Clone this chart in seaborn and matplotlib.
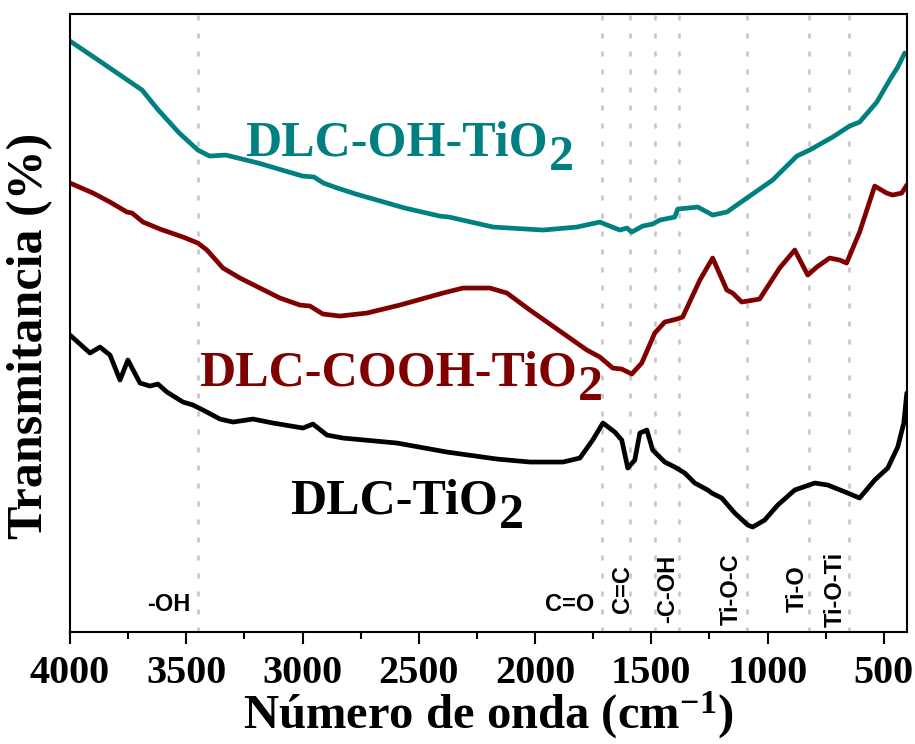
import pandas as pd
import seaborn as sns
from matplotlib import pyplot as plt
from matplotlib.ticker import MultipleLocator

# espectros FTIR (numero de onda en cm-1, transmitancia en unidades arbitrarias)
wn_oh = [4000, 3860, 3690, 3620, 3530, 3450, 3400, 3330, 3190, 3000, 2950, 2910,
         2850, 2770, 2560, 2410, 2370, 2180, 1965, 1820, 1721, 1690, 1635, 1605,
         1584, 1537, 1494, 1463, 1399, 1386, 1300, 1236, 1175, 1089, 978, 874,
         819, 720, 647, 604, 530, 475, 440, 410]
t_oh = [591, 569, 542, 522, 499, 482, 476, 477, 469, 456, 455, 449,
        444, 438, 424, 416, 415, 405, 402, 405, 410, 407, 402, 404,
        400, 406, 408, 412, 415, 423, 425, 417, 420, 434, 452, 476,
        482, 495, 506, 510, 530, 552, 565, 579]

wn_cooh = [4000, 3901, 3828, 3755, 3733, 3686, 3613, 3514, 3450, 3411, 3342, 3269,
           3183, 3097, 3011, 2968, 2912, 2839, 2723, 2581, 2396, 2310, 2194, 2121,
           2022, 1881, 1777, 1721, 1666, 1627, 1584, 1541, 1485, 1442, 1390, 1365,
           1291, 1236, 1175, 1150, 1111, 1034, 948, 883, 827, 788, 733, 690,
           660, 604, 539, 488, 462, 423, 401]
t_cooh = [449, 439, 430, 420, 419, 410, 403, 395, 389, 382, 364, 354,
          344, 334, 327, 326, 318, 316, 319, 327, 339, 344, 344, 339,
          322, 299, 282, 275, 264, 263, 258, 269, 299, 310, 313, 315,
          352, 374, 342, 339, 330, 333, 364, 382, 357, 365, 374, 372,
          369, 400, 446, 439, 437, 439, 447]

wn_tio2 = [4000, 3914, 3871, 3828, 3785, 3751, 3699, 3656, 3622, 3583, 3514, 3471,
           3428, 3355, 3299, 3213, 3127, 2998, 2955, 2895, 2826, 2594, 2379, 2164,
           2022, 1880, 1807, 1752, 1708, 1657, 1627, 1601, 1571, 1549, 1519, 1494,
           1442, 1399, 1356, 1313, 1257, 1240, 1197, 1141, 1085, 1064, 1012, 956,
           883, 797, 741, 655, 604, 539, 483, 440, 414, 401]
t_tio2 = [297, 279, 285, 277, 252, 272, 249, 246, 248, 240, 230, 227,
          222, 213, 210, 213, 209, 204, 208, 197, 194, 189, 180, 173,
          170, 170, 174, 192, 209, 200, 192, 164, 172, 199, 202, 182,
          170, 165, 159, 149, 142, 139, 134, 119, 107, 105, 112, 127,
          142, 149, 147, 139, 134, 152, 164, 185, 209, 239]

bandas = [3450, 1710, 1590, 1485, 1380, 1090, 820, 650]
grupos = ['-OH', 'C=O', 'C=C', '-C-OH', 'Ti-O-C', 'Ti-O', 'Ti-O-Ti']
grupos_x = [3574, 1850, 1623, 1431, 1158, 872, 707]
grupos_rot = [0, 0, 90, 90, 90, 90, 90]

muestras = ['DLC-OH-TiO', 'DLC-COOH-TiO', 'DLC-TiO']
colores = ['#008080', '#800000', '#000000']
etiqueta_xy = [(3248, 477), (3445, 247), (3054, 119)]


def espectros():
    partes = []
    for nombre, wn, t in zip(muestras, [wn_oh, wn_cooh, wn_tio2], [t_oh, t_cooh, t_tio2]):
        partes.append(pd.DataFrame({'Numero': wn, 'Transmitancia': t, 'Muestra': nombre}))
    return pd.concat(partes, ignore_index=True)


def grafico(df, output='out.png'):
    sns.set_style('ticks')
    plt.rcParams['font.family'] = ['Liberation Serif', 'DejaVu Serif']
    plt.rcParams['font.weight'] = 'bold'
    plt.rcParams['axes.labelweight'] = 'bold'
    plt.rcParams['text.color'] = 'black'
    plt.rcParams['axes.labelcolor'] = 'black'
    plt.rcParams['xtick.color'] = 'black'
    plt.rcParams['mathtext.fontset'] = 'custom'
    plt.rcParams['mathtext.rm'] = 'Liberation Serif:bold'
    plt.rcParams['mathtext.bf'] = 'Liberation Serif:bold'
    plt.rcParams['mathtext.default'] = 'bf'

    fig = plt.figure(figsize=(9.15, 7.44), dpi=100)
    ax = fig.add_axes([0.0765, 0.1505, 0.9148, 0.8306])

    for b in bandas:
        ax.axvline(b, color='#c4c4c4', lw=1.8, ls=(0, (2, 5.2)), zorder=0)

    sns.lineplot(x='Numero', y='Transmitancia', hue='Muestra', data=df,
                 palette=dict(zip(muestras, colores)), estimator=None,
                 lw=3.4, legend=False, ax=ax)

    for s, x, r in zip(grupos, grupos_x, grupos_rot):
        y = 43 if r else 28
        ax.text(x, y, s, rotation=r, ha='center', va='center', fontsize=17,
                family='Liberation Sans', weight='bold', color='black')

    for s, c, (x, y) in zip(muestras, colores, etiqueta_xy):
        t = ax.text(x, y, s, color=c, fontsize=36, ha='left', va='baseline')
        ax.annotate('2', xy=(1, 0), xycoords=t, xytext=(1, -11),
                    textcoords='offset points', color=c, fontsize=36,
                    ha='left', va='bottom')

    ax.set_xlim(4000, 400)
    ax.set_ylim(0, 618)
    ax.xaxis.set_major_locator(MultipleLocator(500))
    ax.xaxis.set_minor_locator(MultipleLocator(250))
    ax.set_yticks([])
    ax.tick_params(axis='x', which='major', direction='out', length=8.5, width=1.5,
                   labelsize=29, pad=8, colors='black')
    ax.tick_params(axis='x', which='minor', direction='out', length=5, width=1.5,
                   colors='black')
    for sp in ax.spines.values():
        sp.set_linewidth(1.5)
        sp.set_color('black')

    ax.set_xlabel('Número de onda (cm$^{-1}$)', fontsize=35, fontweight='bold',
                  labelpad=-2)
    ax.set_ylabel('Transmitancia (%)', fontsize=36, fontweight='bold')
    ax.yaxis.set_label_coords(-0.02, 0.48)
    fig.savefig(output)
    return ax


if __name__ == "__main__":
    df = espectros()
    grafico(df)
